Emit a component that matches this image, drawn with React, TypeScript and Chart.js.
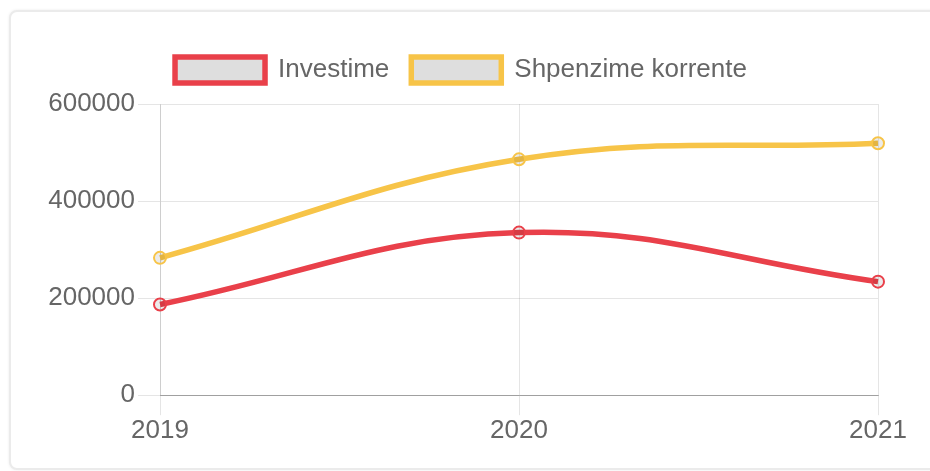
import React, { useEffect, useRef } from "react";
import { Chart, registerables } from "chart.js";

Chart.register(...registerables);

const categories = ["2019", "2020", "2021"];
const investime = [187000, 335000, 234000];
const shpenzime = [283000, 486000, 519000];
const seriesNames = ["Investime", "Shpenzime korrente"];
const yTicks = [0, 200000, 400000, 600000];

const RED = "rgb(233,64,74)";
const YELLOW = "rgb(247,196,72)";
const FONT = "'Liberation Sans', Arial, Helvetica, sans-serif";

export default function App() {
  const ref = useRef<HTMLCanvasElement | null>(null);

  useEffect(() => {
    if (!ref.current) return;
    const chart = new Chart(ref.current, {
      type: "line",
      data: {
        labels: categories,
        datasets: [
          {
            label: seriesNames[0],
            data: investime,
            borderColor: RED,
            backgroundColor: "rgba(0,0,0,0.13)",
            pointBackgroundColor: "rgba(0,0,0,0.08)",
            borderWidth: 5.5,
            pointRadius: 6,
            pointBorderWidth: 2,
            tension: 0.4,
            fill: false,
          },
          {
            label: seriesNames[1],
            data: shpenzime,
            borderColor: YELLOW,
            backgroundColor: "rgba(0,0,0,0.13)",
            pointBackgroundColor: "rgba(0,0,0,0.08)",
            borderWidth: 5.5,
            pointRadius: 6,
            pointBorderWidth: 2,
            tension: 0.4,
            fill: false,
          },
        ],
      },
      options: {
        responsive: false,
        animation: false,
        layout: { padding: { left: 44, right: 52, top: 35, bottom: 24.6 } },
        plugins: {
          tooltip: { enabled: false },
          title: {
            display: true,
            text: " ",
            position: "top",
            weight: 500,
            font: { size: 1, lineHeight: 1 },
            padding: { top: 10, bottom: 0 },
          },
          legend: {
            position: "top",
            labels: {
              boxWidth: 90,
              boxHeight: 26,
              padding: 22,
              color: "#666",
              font: { family: FONT, size: 26 },
            },
          },
        },
        scales: {
          x: {
            grid: { color: "rgba(0,0,0,0.1)", tickLength: 20, lineWidth: 1 },
            border: { color: "rgba(0,0,0,0.3)" },
            ticks: { color: "#666", font: { family: FONT, size: 26 }, padding: 0, maxRotation: 0 },
          },
          y: {
            min: 0,
            max: 600000,
            afterFit: (s: any) => {
              s.width = 116;
            },
            afterBuildTicks: (s: any) => {
              s.ticks = yTicks.map((v) => ({ value: v }));
            },
            grid: { color: "rgba(0,0,0,0.1)", tickLength: 22 },
            border: { color: "rgba(0,0,0,0.1)" },
            ticks: {
              color: "#666",
              font: { family: FONT, size: 26 },
              padding: 3,
              callback: (v: any) => String(v),
            },
          },
        },
      },
    });
    return () => chart.destroy();
  }, []);

  return (
    <div
      style={{
        position: "fixed",
        left: 0,
        top: 0,
        width: 930,
        height: 471,
        background: "#fff",
        overflow: "hidden",
      }}
    >
      <div
        style={{
          position: "absolute",
          left: 9,
          top: 10,
          width: 980,
          height: 456,
          border: "2px solid #ebebeb",
          borderRadius: 8,
          boxShadow: "0 0 3px rgba(0,0,0,0.08)",
          background: "#fff",
        }}
      />
      <canvas
        ref={ref}
        width={930}
        height={471}
        style={{ position: "absolute", left: 0, top: 0, width: 930, height: 471 }}
      />
    </div>
  );
}
